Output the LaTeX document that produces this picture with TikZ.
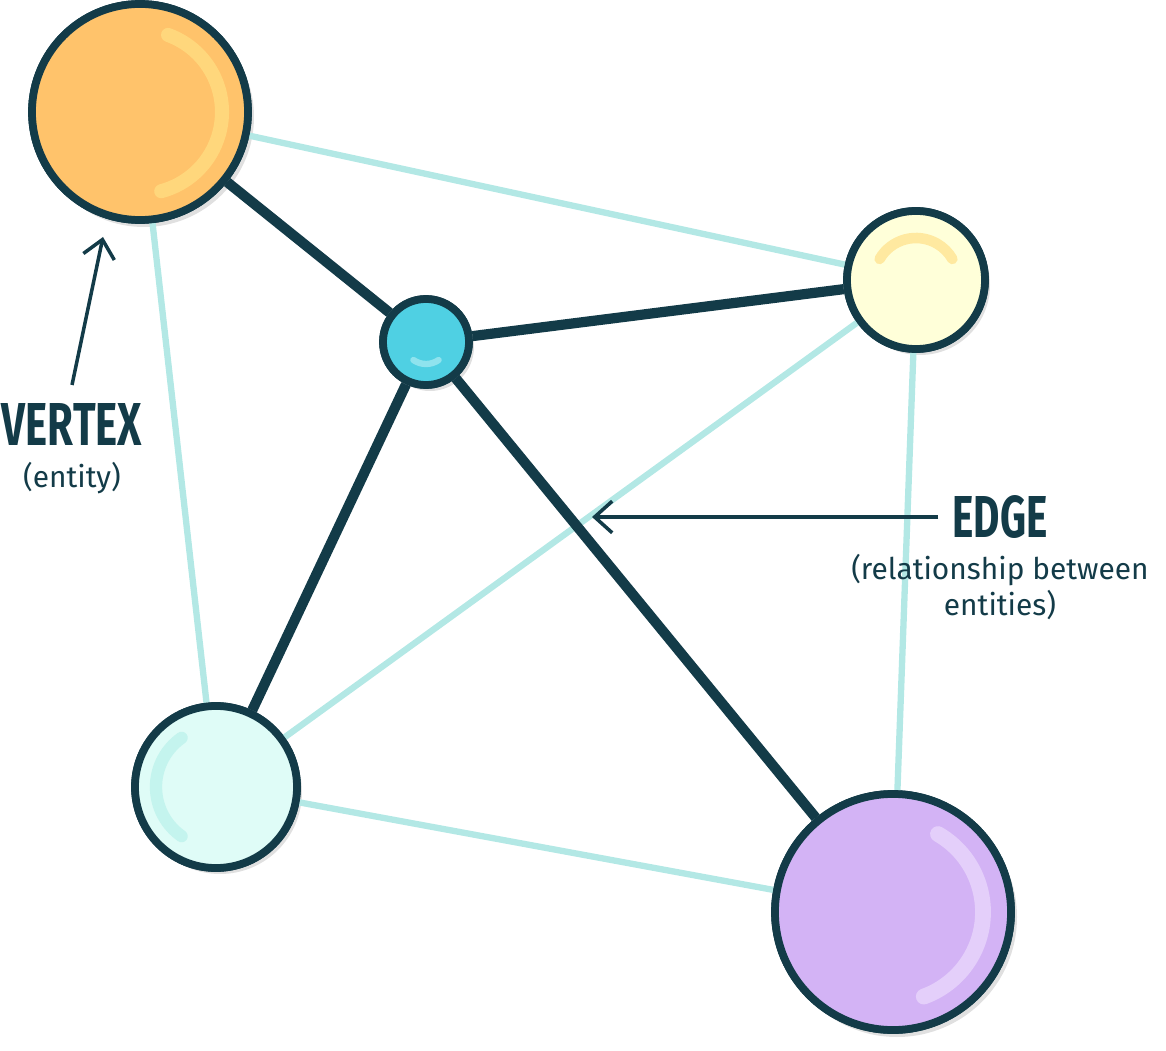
\documentclass[tikz,border=0pt]{standalone}
\usepackage{graphicx}
\usepackage{fontspec}
\setmainfont{Fira Sans}
\usetikzlibrary{arrows.meta}
\definecolor{ink}{HTML}{133B48}
\definecolor{pale}{HTML}{B3E8E5}
\definecolor{orng}{HTML}{FFC36B}
\definecolor{orngh}{HTML}{FFD77C}
\definecolor{tealv}{HTML}{4FD0E3}
\definecolor{tealh}{HTML}{8FE3EE}
\definecolor{yelv}{HTML}{FFFFD9}
\definecolor{yelh}{HTML}{FFE9A0}
\definecolor{cyav}{HTML}{DFFCF7}
\definecolor{cyah}{HTML}{C4F4EE}
\definecolor{purv}{HTML}{D3B3F5}
\definecolor{purh}{HTML}{E4CFFA}
\newcommand{\boxword}[2]{\resizebox{#1}{0.42cm}{\bfseries #2}}
\begin{document}
\begin{tikzpicture}[
        vsty/.style={circle,draw=ink,line width=2.2pt,inner sep=0pt},
        dksty/.style={draw=ink,line width=2.9pt},
        ltsty/.style={draw=pale,line width=1.8pt},
        bigsty/.style={text=ink,inner sep=1pt},
        smsty/.style={font=\fontsize{8.5}{10}\selectfont,text=ink,align=center},
    ]
    \useasboundingbox (0,0) rectangle (11.66,10.5);
    % shadows
    \foreach \x/\y/\r in {1.40/9.38/1.10,4.26/7.08/0.44,9.16/7.70/0.70,2.16/2.63/0.82,8.93/1.38/1.20}{
        \fill[black!12] (\x+0.04,\y-0.05) circle (\r);
    }
    % vertices
    \node (vo) at (1.40,9.38) [vsty,fill=orng,minimum size=2.16cm] {};
    \node (vt) at (4.26,7.08) [vsty,fill=tealv,minimum size=0.86cm] {};
    \node (vy) at (9.16,7.70) [vsty,fill=yelv,minimum size=1.38cm] {};
    \node (vc) at (2.16,2.63) [vsty,fill=cyav,minimum size=1.62cm] {};
    \node (vp) at (8.93,1.38) [vsty,fill=purv,minimum size=2.36cm] {};
    % edges
    \draw[ltsty] (vo) -- (vy);
    \draw[ltsty] (vo) -- (vc);
    \draw[ltsty] (vy) -- (vc);
    \draw[ltsty] (vy) -- (vp);
    \draw[ltsty] (vc) -- (vp);
    \draw[dksty] (vo) -- (vt);
    \draw[dksty] (vt) -- (vy);
    \draw[dksty] (vt) -- (vc);
    \draw[dksty] (vt) -- (vp);
    % redraw vertices on top
    \node at (vo) [vsty,fill=orng,minimum size=2.16cm] {};
    \node at (vt) [vsty,fill=tealv,minimum size=0.86cm] {};
    \node at (vy) [vsty,fill=yelv,minimum size=1.38cm] {};
    \node at (vc) [vsty,fill=cyav,minimum size=1.62cm] {};
    \node at (vp) [vsty,fill=purv,minimum size=2.36cm] {};
    % highlights
    \foreach \n/\r/\a/\b/\c/\w in {vo/0.82/70/-75/orngh/4pt,vt/0.22/235/305/tealh/1.8pt,
        vy/0.42/150/30/yelh/3pt,vc/0.60/125/235/cyah/3.5pt,vp/0.90/60/-70/purh/4.5pt}{
        \draw[\c,line width=\w,line cap=round] (\n.center) ++(\a:\r) arc[start angle=\a,end angle=\b,radius=\r];
    }
    % labels
    \node (lv) at (0.72,6.25) [bigsty] {\boxword{1.40cm}{VERTEX}};
    \node (le) at (0.72,5.72) [smsty] {(entity)};
    \node (lg) at (10.00,5.33) [bigsty] {\boxword{0.95cm}{EDGE}};
    \node (lr) at (10.00,4.63) [smsty] {(relationship between\\entities)};
    \coordinate (av) at (1.03,8.13);
    \coordinate (ae) at (5.92,5.33);
    \draw[ink,line width=1pt,-{Straight Barb[length=5pt,width=9pt]}] (0.72,6.65) -- (av);
    \draw[ink,line width=1pt,-{Straight Barb[length=5pt,width=9pt]}] (lg.west) ++(-0.1,0) -- (ae);
\end{tikzpicture}
\end{document}
